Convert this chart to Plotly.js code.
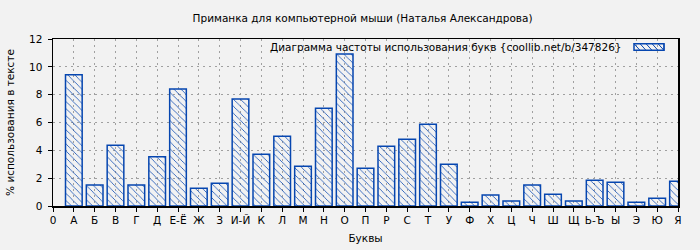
<!DOCTYPE html>
<html><head><meta charset="utf-8">
<script src="https://cdn.plot.ly/plotly-3.0.1.min.js"></script>
<style>html,body{margin:0;padding:0;background:#f2f2f2;}</style>
</head><body><div id="chart" style="width:700px;height:250px;"></div>
<script>
const axisCategories = ["0","А","Б","В","Г","Д","Е-Ё","Ж","З","И-Й","К","Л","М","Н","О","П","Р","С","Т","У","Ф","Х","Ц","Ч","Ш","Щ","Ь-Ъ","Ы","Э","Ю","Я"];
const letters = ["А","Б","В","Г","Д","Е-Ё","Ж","З","И-Й","К","Л","М","Н","О","П","Р","С","Т","У","Ф","Х","Ц","Ч","Ш","Щ","Ь-Ъ","Ы","Э","Ю","Я"];
const percents = [9.43,1.51,4.37,1.51,3.53,8.40,1.27,1.63,7.68,3.72,5.02,2.86,7.03,10.92,2.71,4.30,4.80,5.88,3.00,0.27,0.79,0.36,1.51,0.84,0.36,1.85,1.70,0.27,0.55,1.78];
const yTicks = [0,2,4,6,8,10,12];

const blue = '#0646b0';
const font = {family:'DejaVu Sans, sans-serif', size:10.5, color:'#000'};

const trace = {
  type:'bar', x:letters, y:percents, width:0.8,
  marker:{color:'rgba(0,0,0,0)', line:{color:blue, width:1.5},
    pattern:{shape:'\\', fgcolor:blue, bgcolor:'rgba(0,0,0,0)', size:5, solidity:0.15}},
  showlegend:false, hoverinfo:'skip'
};

// legend swatch (paper coords)
const lx0=0.9296, lx1=0.9776, ly0=0.932, ly1=0.972;
let hatch='';
for(let i=0;i<6;i++){
  const xa = lx0 + i*0.0096;
  const xb = Math.min(xa+0.0096, lx1);
  hatch += `M${xa},${ly1} L${xb},${ly0} `;
}
const layout = {
  width:700, height:250,
  paper_bgcolor:'#f2f2f2', plot_bgcolor:'#f2f2f2',
  margin:{l:53, r:22, t:39, b:44},
  font:font,
  title:{text:'Приманка для компьютерной мыши (Наталья Александрова)', font:font, x:0.518, xanchor:'center', y:0.925, yanchor:'middle'},
  xaxis:{type:'category', categoryorder:'array', categoryarray:axisCategories, range:[0,30],
    tickmode:'array', tickvals:axisCategories, ticktext:axisCategories,
    showline:true, linecolor:'#000', linewidth:1.5, mirror:true,
    ticks:'outside', ticklen:4, tickcolor:'#000',
    showgrid:true, gridcolor:'#a0a0a0', griddash:'2px,4px', gridwidth:1,
    tickfont:font, fixedrange:true,
    title:{text:'Буквы', font:font, standoff:9}},
  yaxis:{range:[0,12], tickmode:'array', tickvals:yTicks,
    showline:true, linecolor:'#000', linewidth:1.5, mirror:true,
    ticks:'outside', ticklen:4, tickcolor:'#000', ticklabelstandoff:3,
    showgrid:true, gridcolor:'#a0a0a0', griddash:'2px,4px', gridwidth:1,
    zeroline:false, tickfont:font,
    title:{text:'% использования в тексте', font:font, standoff:12}},
  annotations:[{xref:'paper', yref:'paper', x:0.914, y:0.952, xanchor:'right', yanchor:'middle',
    text:'Диаграмма частоты использования букв {coollib.net/b/347826}', showarrow:false, font:font}],
  shapes:[
    {type:'rect', xref:'paper', yref:'paper', x0:lx0, x1:lx1, y0:ly0, y1:ly1, line:{color:blue,width:1.5}, fillcolor:'rgba(0,0,0,0)'},
    {type:'path', xref:'paper', yref:'paper', path:hatch, line:{color:blue,width:1}}
  ]
};
Plotly.newPlot('chart',[trace],layout,{staticPlot:true});
</script></body></html>
